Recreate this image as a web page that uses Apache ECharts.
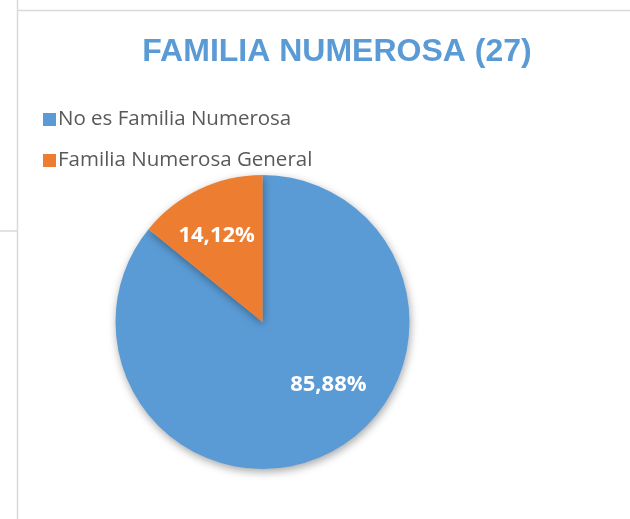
<!DOCTYPE html>
<html>
<head>
<meta charset="utf-8">
<script src="https://cdn.jsdelivr.net/npm/echarts@6/dist/echarts.min.js"></script>
<style>
	html, body { margin: 0; padding: 0; background: #fff; }
	#Icon { width: 630px; height: 519px; }
</style>
</head>
<body>
<div id="Icon"></div>
<script>
var categories = ['No es Familia Numerosa', 'Familia Numerosa General'];
var values = [85.88, 14.12];
var colors = ['#5B9BD5', '#ED7D31'];
var labelOffsets = [[33, -6], [-13, -17]];

var dom = document.getElementById("Icon");
var myChart = echarts.init(dom);

var pieData = categories.map(function(name, i) {
	return {
		name: name,
		value: values[i],
		itemStyle: { color: colors[i] },
		label: { offset: labelOffsets[i] }
	};
});

var option = {
	animation: false,
	title: {
		text: 'FAMILIA NUMEROSA (27)',
		left: 332,
		top: 31,
		textAlign: 'center',
		textStyle: {
			fontFamily: 'Liberation Sans',
			fontSize: 32,
			fontWeight: 'bold',
			color: '#5B9BD5'
		}
	},
	legend: {
		orient: 'vertical',
		left: 38,
		top: 104,
		itemWidth: 13,
		itemHeight: 13,
		itemGap: 20,
		icon: 'rect',
		data: categories,
		textStyle: {
			fontFamily: 'Open Sans',
			fontSize: 20.5,
			color: '#595959',
			padding: [0, 0, 0, -3]
		}
	},
	graphic: [
		{ type: 'line', shape: { x1: 17.5, y1: 0, x2: 17.5, y2: 519 }, style: { stroke: '#d9d9d9', lineWidth: 1.5 } },
		{ type: 'line', shape: { x1: 17, y1: 10.5, x2: 630, y2: 10.5 }, style: { stroke: '#d9d9d9', lineWidth: 1.5 } },
		{ type: 'line', shape: { x1: 0, y1: 231, x2: 17, y2: 231 }, style: { stroke: '#d9d9d9', lineWidth: 1.5 } }
	],
	series: [{
		type: 'pie',
		center: [262.5, 322],
		radius: [0, 147],
		startAngle: 90,
		clockwise: true,
		avoidLabelOverlap: false,
		legendHoverLink: false,
		itemStyle: {
			shadowBlur: 8,
			shadowColor: 'rgba(0,0,0,0.35)',
			shadowOffsetX: 1,
			shadowOffsetY: 3
		},
		label: {
			show: true,
			position: 'inside',
			color: '#fff',
			fontFamily: 'Open Sans',
			fontWeight: 'bold',
			fontSize: 22,
			formatter: function(p) {
				return p.value.toFixed(2).replace('.', ',') + '%';
			}
		},
		labelLine: { show: false },
		data: pieData
	}]
};
myChart.setOption(option, true);
</script>
</body>
</html>
